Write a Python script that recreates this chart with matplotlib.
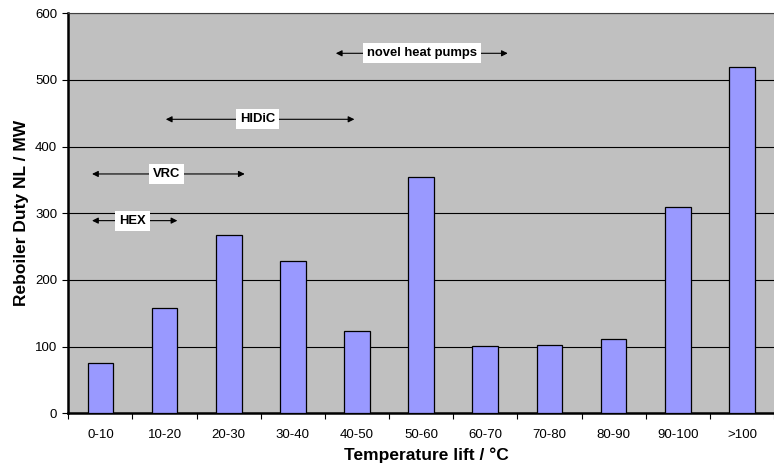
import matplotlib
matplotlib.use("Agg")
import matplotlib.pyplot as plt

plt.rcParams['font.family'] = ['Liberation Sans', 'DejaVu Sans']

categories = ["0-10", "10-20", "20-30", "30-40", "40-50", "50-60", "60-70", "70-80", "80-90", "90-100", ">100"]
duty = [75, 158, 268, 229, 124, 354, 101, 102, 111, 309, 519]

# technology ranges (x in category units), y level, label position
tech_labels = ["HEX", "VRC", "HIDiC", "novel heat pumps"]
tech_start = [-0.13, -0.13, 1.02, 3.67]
tech_end = [1.20, 2.25, 3.96, 6.35]
tech_level = [289, 359, 441, 540]
tech_label_x = [0.50, 1.03, 2.45, 5.01]

fig = plt.figure(figsize=(7.74, 4.69), dpi=100)
ax = fig.add_axes([68.3/774, 55.7/469, (774-68.3)/774, 400/469])
ax.set_facecolor('#C0C0C0')

x = list(range(len(categories)))
ax.bar(x, duty, width=0.4, color='#9999FF', edgecolor='black', linewidth=0.9, zorder=3)

ax.set_ylim(0, 600)
ax.set_xlim(-0.5, 10.5 - 9/65)
ax.set_yticks(range(0, 601, 100))
ax.yaxis.grid(True, color='black', linewidth=0.8, zorder=1)
ax.set_axisbelow(True)

ax.set_xticks(x)
ax.set_xticklabels(categories, fontsize=9.5)
ax.set_xticks([i + 0.5 for i in range(-1, len(categories))], minor=True)
ax.tick_params(axis='x', which='major', length=0, pad=11)
ax.tick_params(axis='x', which='minor', length=4, width=0.8, direction='out')
ax.tick_params(axis='y', labelsize=9.5, length=4, width=0.8, direction='out', pad=4)

for s in ['left', 'bottom']:
    ax.spines[s].set_linewidth(1.8)
    ax.spines[s].set_color('black')
ax.spines['top'].set_linewidth(0.8)
ax.spines['top'].set_color('#404040')
ax.spines['right'].set_visible(False)

ax.set_xlabel("Temperature lift / °C", fontsize=12.5, fontweight='bold', labelpad=5)
ax.xaxis.label.set_x(0.508)
ax.set_ylabel("Reboiler Duty NL / MW", fontsize=12.5, fontweight='bold', labelpad=4)

for lab, xs, xe, yl, xl in zip(tech_labels, tech_start, tech_end, tech_level, tech_label_x):
    ax.annotate("", xy=(xe, yl), xytext=(xs, yl),
                arrowprops=dict(arrowstyle='<|-|>', color='black', lw=0.8,
                                mutation_scale=9, shrinkA=0, shrinkB=0), zorder=4)
    ax.text(xl, yl, lab, fontsize=9.4, fontweight='bold', ha='center', va='center',
            bbox=dict(facecolor='white', edgecolor='none', pad=2.8), zorder=5)

fig.savefig("out.png", dpi=100)
